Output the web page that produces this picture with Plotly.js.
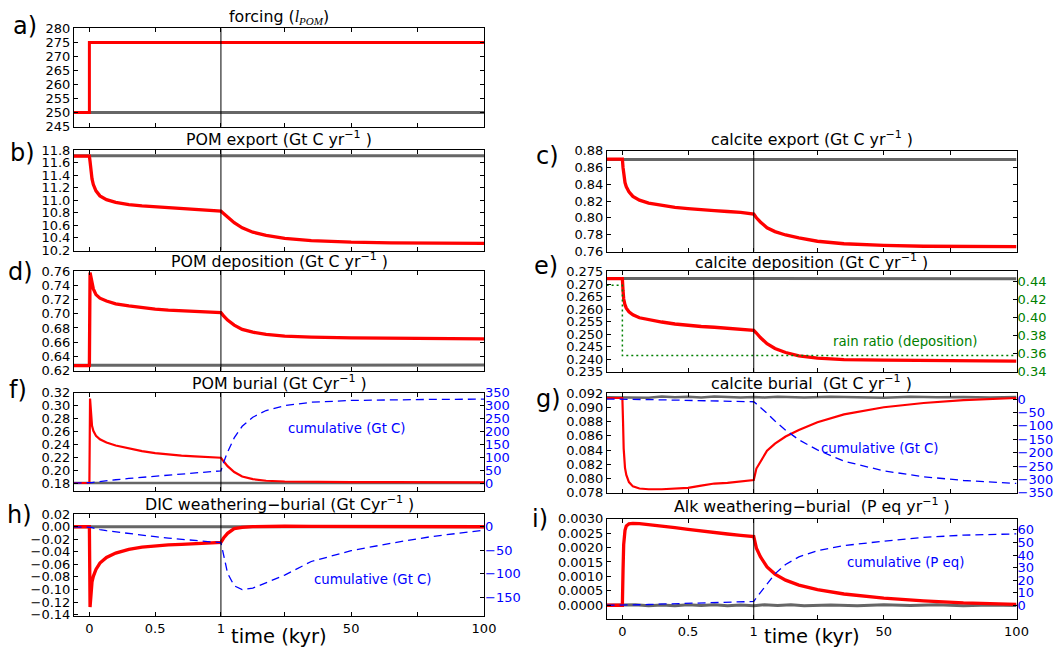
<!DOCTYPE html>
<html>
<head>
<meta charset="utf-8">
<script src="https://cdn.plot.ly/plotly-3.0.1.min.js"></script>
<style>html,body{margin:0;padding:0;background:#fff;}</style>
</head>
<body>
<div id="chart" style="width:1056px;height:648px;"></div>
<script>
// ---------------- DATA (time in kyr) ----------------
const T = [-0.12, 0, 0.005, 0.01, 0.02, 0.03, 0.05, 0.08, 0.13, 0.2, 0.3, 0.4, 0.5, 0.6, 0.7, 0.8, 0.9, 1, 2, 3.5, 6, 9, 13, 18, 25, 35, 50, 65, 80, 100];
const GT = [-0.12, 0, 0.1, 0.2, 0.3, 0.4, 0.5, 0.6, 0.7, 0.8, 0.9, 1, 5, 10, 15, 20, 30, 40, 50, 60, 70, 80, 90, 100];
const TICK_T = [0, 0.5, 1, 25, 50, 75, 100];
const TICK_LABELS = ['0', '0.5', '1', '', '50', '', '100'];
const BREAK_T = 1;

// a) forcing
const A_T = [-0.12, 0, 0, 100];
const A_RED = [250, 250, 275, 275];
const A_GRAY_T = [-0.12, 100];
const A_GRAY = [250, 250];

// b) POM export
const B_RED = [11.705, 11.705, 11.62, 11.50, 11.34, 11.25, 11.15, 11.07, 11.01, 10.965, 10.93, 10.91, 10.895, 10.88, 10.868, 10.855, 10.84, 10.825, 10.79, 10.73, 10.64, 10.56, 10.49, 10.44, 10.39, 10.355, 10.33, 10.32, 10.312, 10.31];
const B_GRAY = [11.71, 11.71, 11.714, 11.707, 11.712, 11.708, 11.711, 11.706, 11.713, 11.709, 11.711, 11.707, 11.712, 11.709, 11.714, 11.708, 11.711, 11.706, 11.712, 11.71, 11.708, 11.713, 11.709, 11.711];

// c) calcite export
const C_RED = [0.870, 0.870, 0.860, 0.851, 0.842, 0.837, 0.831, 0.8255, 0.821, 0.8175, 0.8145, 0.8125, 0.811, 0.8095, 0.8085, 0.8075, 0.8065, 0.8045, 0.800, 0.795, 0.788, 0.7835, 0.7795, 0.776, 0.772, 0.769, 0.767, 0.766, 0.7658, 0.7655];
const C_GRAY = [0.8695, 0.8695, 0.8698, 0.8693, 0.8697, 0.8694, 0.8696, 0.8692, 0.8698, 0.8695, 0.8697, 0.8693, 0.8697, 0.8695, 0.8698, 0.8694, 0.8696, 0.8693, 0.8697, 0.8695, 0.8694, 0.8698, 0.8695, 0.8696];

// d) POM deposition
const D_RED = [0.627, 0.627, 0.758, 0.752, 0.741, 0.735, 0.727, 0.722, 0.718, 0.714, 0.711, 0.7085, 0.7065, 0.705, 0.704, 0.7035, 0.7025, 0.7015, 0.697, 0.691, 0.684, 0.678, 0.674, 0.671, 0.6685, 0.667, 0.666, 0.6655, 0.665, 0.6645];
const D_GRAY = [0.6275, 0.6275, 0.6278, 0.6272, 0.6277, 0.6273, 0.6276, 0.6271, 0.6278, 0.6274, 0.6277, 0.6273, 0.6276, 0.6279, 0.6274, 0.6277, 0.6273, 0.6278, 0.6275, 0.6272, 0.6277, 0.6274, 0.6278, 0.6276];

// e) calcite deposition + rain ratio
const E_RED = [0.2722, 0.2722, 0.2675, 0.2642, 0.2617, 0.2604, 0.259, 0.2578, 0.2566, 0.2558, 0.2549, 0.2541, 0.2535, 0.2531, 0.2528, 0.2524, 0.2521, 0.2516, 0.2505, 0.2487, 0.2462, 0.2443, 0.2427, 0.2414, 0.2405, 0.2399, 0.2397, 0.2395, 0.2394, 0.2393];
const E_GRAY = [0.2723, 0.2723, 0.2724, 0.2722, 0.2724, 0.2723, 0.2722, 0.2724, 0.2723, 0.2722, 0.2724, 0.2723, 0.2724, 0.2722, 0.2723, 0.2724, 0.2722, 0.2723, 0.2724, 0.2722, 0.2723, 0.2724, 0.2723, 0.2722];
const E_RAIN_T = [-0.12, 0, 0, 100];
const E_RAIN = [0.436, 0.436, 0.358, 0.358];

// f) POM burial + cumulative
const F_RED = [0.1805, 0.1805, 0.311, 0.295, 0.269, 0.261, 0.2535, 0.248, 0.243, 0.2385, 0.234, 0.2298, 0.2268, 0.2245, 0.2228, 0.2215, 0.2205, 0.2195, 0.2140, 0.2065, 0.1975, 0.1905, 0.1865, 0.1840, 0.1828, 0.1822, 0.1819, 0.1818, 0.1816, 0.1815];
const F_GRAY = [0.1805, 0.1805, 0.1808, 0.1803, 0.1807, 0.1804, 0.1806, 0.1802, 0.1807, 0.1805, 0.1803, 0.1806, 0.1804, 0.1807, 0.1803, 0.1806, 0.1805, 0.1802, 0.1806, 0.1804, 0.1807, 0.1803, 0.1806, 0.1805];
const F_CUM = [0, 0, 0.5, 1, 2, 3, 4.5, 6.5, 9.5, 13, 18, 22.5, 27, 31, 35.5, 39.5, 43.5, 47.5, 80, 120, 175, 220, 255, 281, 300, 313, 320, 323, 324, 325];

// g) calcite burial + cumulative
const G_RED = [0.0913, 0.0913, 0.0880, 0.0842, 0.0815, 0.0805, 0.0795, 0.0789, 0.0786, 0.0785, 0.0785, 0.0786, 0.0787, 0.0790, 0.0793, 0.0794, 0.0796, 0.0798, 0.0814, 0.0824, 0.0839, 0.0849, 0.0859, 0.0868, 0.0879, 0.0890, 0.0900, 0.0906, 0.0910, 0.0913];
const G_GRAY = [0.0914, 0.0914, 0.09145, 0.09135, 0.0915, 0.0914, 0.09148, 0.09138, 0.0915, 0.09142, 0.09136, 0.09145, 0.09138, 0.09148, 0.0914, 0.09136, 0.09146, 0.0914, 0.09135, 0.09147, 0.0914, 0.09144, 0.09137, 0.09143];
const G_CUM = [0, 0, 0, -0.1, -0.2, -0.3, -0.5, -0.8, -1.3, -2, -3, -4, -5, -6, -7, -8, -9, -10, -18, -30, -53, -82, -116, -152, -190, -232, -268, -290, -304, -315];

// h) DIC weathering-burial + cumulative
const H_RED = [0, 0, -0.128, -0.105, -0.088, -0.079, -0.068, -0.058, -0.049, -0.042, -0.036, -0.0325, -0.0305, -0.029, -0.028, -0.027, -0.026, -0.0248, -0.018, -0.0105, -0.003, -0.001, 0.0003, 0.0008, 0.0008, 0.0007, 0.0005, 0.0004, 0.0002, 0];
const H_GRAY = [0, 0, 0.0004, -0.0003, 0.0003, -0.0002, 0.0004, -0.0004, 0.0002, -0.0003, 0.0004, -0.0002, 0.0003, -0.0004, 0.0002, -0.0003, 0.0004, -0.0002, 0.0003, -0.0004, 0.0002, -0.0003, 0.0003, -0.0002];
const H_CUM = [0, 0, -0.5, -1, -1.8, -2.6, -4, -5.8, -8.3, -11, -14.5, -18, -21, -24, -27, -29.5, -31.5, -33.5, -62, -99, -126, -134, -131, -120, -103, -74, -51, -35, -21, -7];

// i) Alk weathering-burial + cumulative
const I_RED = [0, 0, 0.0012, 0.0021, 0.0026, 0.00275, 0.00282, 0.00284, 0.00283, 0.0028, 0.00275, 0.00269, 0.00263, 0.00257, 0.00252, 0.00247, 0.00242, 0.00238, 0.00198, 0.00168, 0.00133, 0.00108, 0.00087, 0.0007, 0.00054, 0.00039, 0.00025, 0.00015, 0.00008, 0.00003];
const I_GRAY = [0, 0, 0.00002, -0.00002, 0.00001, -0.00002, 0.00002, -0.00001, 0.00002, -0.00002, 0.00001, -0.00002, 0.00002, -0.00001, 0.00002, -0.00002, 0.00001, -0.00002, 0.00002, -0.00001, 0.00002, -0.00002, 0.00001, -0.00001];
const I_CUM = [0, 0, 0, 0, 0.1, 0.1, 0.15, 0.25, 0.4, 0.6, 0.9, 1.2, 1.5, 1.8, 2.1, 2.4, 2.7, 3, 6, 10, 16.5, 25, 32.5, 38.5, 43.5, 47.5, 51, 54, 55.8, 56.8];

// ---------------- broken time axis: 0-1 kyr linear, 1-100 kyr compressed ----------------
function tx(t) { return t <= BREAK_T ? t : BREAK_T + (t - BREAK_T) * 2 / 99; }
const X = arr => arr.map(tx);

// ---------------- LAYOUT ----------------
const W = 1056, H = 648;
const fx = p => p / W, fy = p => 1 - p / H;
const COL = { L: [74, 484], R: [607, 1016.5] };
const FONT = 'DejaVu Sans, sans-serif';
const RED = 'rgb(255,0,0)', GRAY = 'rgb(102,102,102)', BLUE = 'rgb(0,0,255)', GREEN = 'rgb(0,128,0)';
const pad = r => { const s = (r[1] - r[0]) * 0.002; return [r[0] - s, r[1] + s]; };

const panels = [
  { id: 'a', n: 1, col: 'L', dom: [28.3, 126.7], yr: [245, 280], t0: 245, dt: 5, fmt: 'd',
    title: 'forcing (<span style="font-family:Liberation Serif;font-style:italic">l<sub>POM</sub></span>)', tY: 17, letter: [25, 26] },
  { id: 'b', n: 2, col: 'L', dom: [150, 250.5], yr: [10.2, 11.8], t0: 10.2, dt: 0.2, fmt: '.1f',
    title: 'POM export (Gt C yr<sup>−1</sup> )', tY: 138.3, letter: [22, 152.5] },
  { id: 'c', n: 3, col: 'R', dom: [150.5, 251.5], yr: [0.76, 0.88], t0: 0.76, dt: 0.02, fmt: '.2f',
    title: 'calcite export (Gt C yr<sup>−1</sup> )', tY: 138.7, letter: [547, 156] },
  { id: 'd', n: 4, col: 'L', dom: [271, 370.7], yr: [0.62, 0.76], t0: 0.62, dt: 0.02, fmt: '.2f',
    title: 'POM deposition (Gt C yr<sup>−1</sup> )', tY: 260.7, letter: [20, 272] },
  { id: 'e', n: 5, col: 'R', dom: [271, 372], yr: [0.235, 0.2752], t0: 0.235, dt: 0.005, fmt: '.3f',
    title: 'calcite deposition (Gt C yr<sup>−1</sup> )', tY: 261, letter: [546, 265.5],
    twin: { n: 10, yr: [0.34, 0.4516], tickvals: [0.34, 0.36, 0.38, 0.40, 0.42, 0.44], fmt: '.2f', color: GREEN } },
  { id: 'f', n: 6, col: 'L', dom: [392.5, 491.3], yr: [0.168, 0.32], t0: 0.18, dt: 0.02, fmt: '.2f',
    title: 'POM burial (Gt Cyr<sup>−1</sup> )', tY: 382.3, letter: [18, 390],
    twin: { n: 11, yr: [-31, 350], tickvals: [0, 50, 100, 150, 200, 250, 300, 350], fmt: 'd', color: BLUE } },
  { id: 'g', n: 7, col: 'R', dom: [392.8, 493], yr: [0.078, 0.092], t0: 0.078, dt: 0.002, fmt: '.3f',
    title: 'calcite burial  (Gt C yr<sup>−1</sup> )', tY: 382.5, letter: [548, 399],
    twin: { n: 12, yr: [-350, 22.6], tickvals: [0, -50, -100, -150, -200, -250, -300, -350], fmt: 'd', color: BLUE } },
  { id: 'h', n: 8, col: 'L', dom: [514, 616], yr: [-0.142, 0.02], t0: -0.14, dt: 0.02, fmt: '.2f',
    title: 'DIC weathering−burial (Gt Cyr<sup>−1</sup> )', tY: 503.3, letter: [19.5, 515], bottom: true,
    twin: { n: 13, yr: [-190, 27], tickvals: [0, -50, -100, -150], fmt: 'd', color: BLUE } },
  { id: 'i', n: 9, col: 'R', dom: [518.5, 619], yr: [-0.00047, 0.003], t0: 0, dt: 0.0005, fmt: '.4f',
    title: 'Alk weathering−burial  (P eq yr<sup>−1</sup> )', tY: 505, letter: [539.5, 519], bottom: true,
    twin: { n: 14, yr: [-10.8, 68.9], tickvals: [0, 10, 20, 30, 40, 50, 60], fmt: 'd', color: BLUE } }
];

const layout = {
  width: W, height: H, margin: { l: 0, r: 0, t: 0, b: 0 },
  paper_bgcolor: '#fff', plot_bgcolor: '#fff', showlegend: false,
  font: { family: FONT, color: '#000' },
  annotations: [], shapes: []
};

const tickFont = { family: FONT, size: 13, color: '#000' };
const nm = n => (n === 1 ? '' : String(n));

panels.forEach(p => {
  const c = COL[p.col];
  const xk = 'xaxis' + nm(p.n), yk = 'yaxis' + nm(p.n);
  layout[xk] = {
    domain: [fx(c[0]), fx(c[1])], anchor: 'y' + nm(p.n),
    range: [-0.117, 3], tickmode: 'array', tickvals: X(TICK_T), ticktext: TICK_LABELS,
    showticklabels: !!p.bottom, ticks: 'inside', ticklen: 4, tickwidth: 1, tickcolor: '#000',
    showline: true, linecolor: '#000', linewidth: 1, mirror: 'ticks',
    showgrid: false, zeroline: false, tickfont: tickFont, fixedrange: true
  };
  layout[yk] = {
    domain: [fy(p.dom[1]), fy(p.dom[0])], anchor: 'x' + nm(p.n),
    range: pad(p.yr), tickmode: 'linear', tick0: p.t0, dtick: p.dt, tickformat: p.fmt,
    ticks: 'inside', ticklen: 4, tickwidth: 1, tickcolor: '#000',
    showline: true, linecolor: '#000', linewidth: 1, mirror: p.twin ? true : 'ticks',
    showgrid: false, zeroline: false, tickfont: tickFont, fixedrange: true
  };
  if (p.twin) {
    layout['yaxis' + p.twin.n] = {
      overlaying: 'y' + nm(p.n), anchor: 'x' + nm(p.n), side: 'right',
      range: pad(p.twin.yr), tickmode: 'array', tickvals: p.twin.tickvals, tickformat: p.twin.fmt,
      ticks: 'inside', ticklen: 4, tickwidth: 1, tickcolor: '#000',
      showline: false, showgrid: false, zeroline: false,
      tickfont: { family: FONT, size: 13, color: p.twin.color }, fixedrange: true
    };
  }
  // break line at 1 kyr
  layout.shapes.push({
    type: 'line', xref: 'x' + nm(p.n), yref: 'y' + nm(p.n) + ' domain',
    x0: tx(BREAK_T), x1: tx(BREAK_T), y0: 0, y1: 1, layer: 'above',
    line: { color: '#000', width: 1 }
  });
  // title
  layout.annotations.push({
    text: p.title, x: fx((c[0] + c[1]) / 2), y: fy(p.tY), xref: 'paper', yref: 'paper',
    xanchor: 'center', yanchor: 'middle', showarrow: false,
    font: { family: FONT, size: 15.8, color: '#000' }
  });
  // panel letter
  layout.annotations.push({
    text: p.id + ')', x: fx(p.letter[0]), y: fy(p.letter[1]), xref: 'paper', yref: 'paper',
    xanchor: 'center', yanchor: 'middle', showarrow: false,
    font: { family: FONT, size: 24, color: '#000' }
  });
  if (p.bottom) {
    layout.annotations.push({
      text: 'time (kyr)', x: fx((c[0] + c[1]) / 2), y: fy(636.5), xref: 'paper', yref: 'paper',
      xanchor: 'center', yanchor: 'middle', showarrow: false,
      font: { family: FONT, size: 19.5, color: '#000' }
    });
  }
});

// in-panel labels
[
  ['rain ratio (deposition)', 905.4, 341.5, GREEN],
  ['cumulative (Gt C)', 346.5, 428, BLUE],
  ['cumulative (Gt C)', 879.8, 448.3, BLUE],
  ['cumulative (Gt C)', 372.5, 579, BLUE],
  ['cumulative (P eq)', 905.4, 562.4, BLUE]
].forEach(a => layout.annotations.push({
  text: a[0], x: fx(a[1]), y: fy(a[2]), xref: 'paper', yref: 'paper',
  xanchor: 'center', yanchor: 'middle', showarrow: false,
  font: { family: FONT, size: 13.3, color: a[3] }
}));

// ---------------- TRACES ----------------
const traces = [];
function line(x, y, n, color, width, dash) {
  traces.push({
    type: 'scatter', mode: 'lines', x: X(x), y: y,
    xaxis: 'x' + nm(n), yaxis: 'y' + (typeof n === 'string' ? n : nm(n)),
    line: { color: color, width: width, dash: dash || 'solid' },
    hoverinfo: 'skip'
  });
}
function twinLine(x, y, xn, yn, color, width, dash) {
  traces.push({
    type: 'scatter', mode: 'lines', x: X(x), y: y,
    xaxis: 'x' + nm(xn), yaxis: 'y' + yn,
    line: { color: color, width: width, dash: dash },
    hoverinfo: 'skip'
  });
}

// a
line(A_GRAY_T, A_GRAY, 1, GRAY, 3);
line(A_T, A_RED, 1, RED, 3);
// b
line(GT, B_GRAY, 2, GRAY, 3);
line(T, B_RED, 2, RED, 3.3);
// c
line(GT, C_GRAY, 3, GRAY, 3);
line(T, C_RED, 3, RED, 3.3);
// d
line(GT, D_GRAY, 4, GRAY, 3);
line(T, D_RED, 4, RED, 3.3);
// e
line(GT, E_GRAY, 5, GRAY, 3);
line(T, E_RED, 5, RED, 3.3);
twinLine(E_RAIN_T, E_RAIN, 5, 10, GREEN, 1.5, '2px,3px');
// f
line(GT, F_GRAY, 6, GRAY, 2.5);
line(T, F_RED, 6, RED, 2.2);
twinLine(T, F_CUM, 6, 11, BLUE, 1.3, '8px,5px');
// g
line(GT, G_GRAY, 7, GRAY, 2.5);
line(T, G_RED, 7, RED, 2.2);
twinLine(T, G_CUM, 7, 12, BLUE, 1.3, '8px,5px');
// h
line(GT, H_GRAY, 8, GRAY, 3);
line(T, H_RED, 8, RED, 3.3);
twinLine(T, H_CUM, 8, 13, BLUE, 1.3, '8px,5px');
// i
line(GT, I_GRAY, 9, GRAY, 3);
line(T, I_RED, 9, RED, 3.3);
twinLine(T, I_CUM, 9, 14, BLUE, 1.3, '8px,5px');

Plotly.newPlot('chart', traces, layout, { staticPlot: true, displayModeBar: false });
</script>
</body>
</html>
